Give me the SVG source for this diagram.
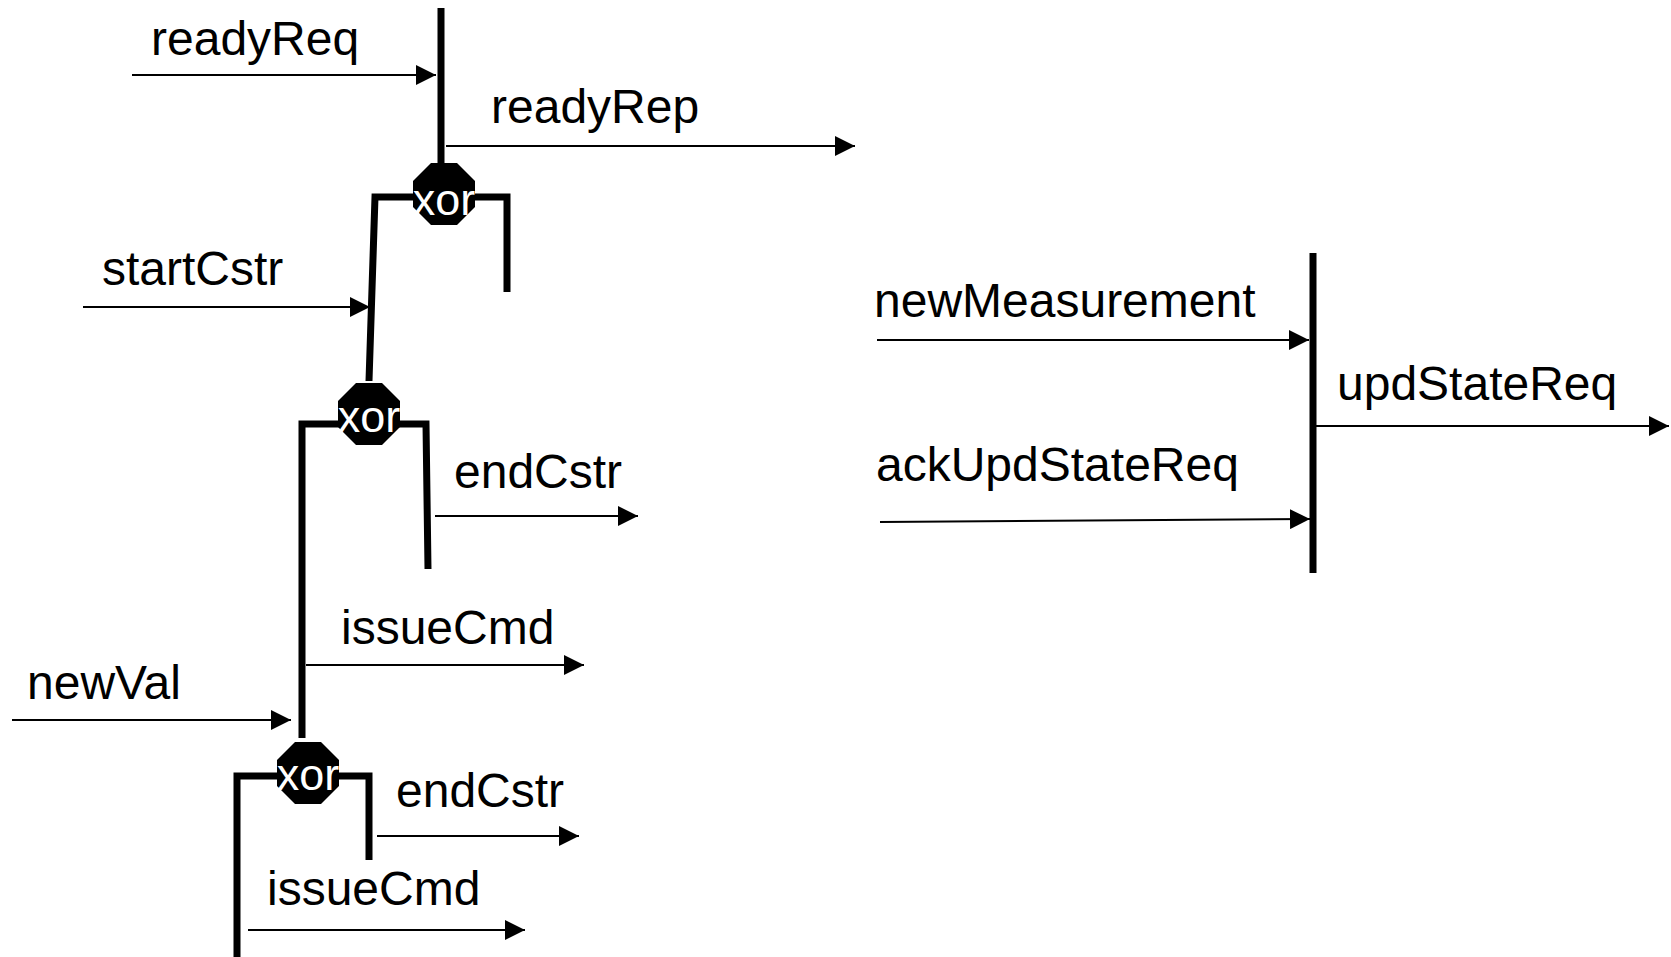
<svg xmlns="http://www.w3.org/2000/svg" width="1671" height="957" viewBox="0 0 1671 957">
<style>
.bg{fill:#fff}
.lbl{font-family:"Liberation Sans",Arial,sans-serif;font-size:48px;fill:#000}
.xor{font-family:"Liberation Sans",Arial,sans-serif;font-size:45px;fill:#fff;text-anchor:middle}
.thick{fill:none;stroke:#000;stroke-width:7;stroke-linejoin:miter;stroke-linecap:butt}
.arr{stroke:#000;stroke-width:2;fill:none;marker-end:url(#ah)}
.oct{fill:#000}
</style>
<defs>
<marker id="ah" markerUnits="userSpaceOnUse" markerWidth="20" markerHeight="20" refX="20" refY="10" orient="auto">
<path d="M0,0 L20,10 L0,20 Z" fill="#000"/>
</marker>
<polygon id="octa" points="-13,-31 13,-31 31,-13 31,13 13,31 -13,31 -31,13 -31,-13"/>
</defs>
<rect class="bg" x="0" y="0" width="1671" height="957"/>

<g id="bars">
<path class="thick" d="M441,8 L441,166"/>
<path class="thick" d="M507,292 L507,197 L375,197 L369,381"/>
<path class="thick" d="M428,569 L426,424 L302,424 L302,738"/>
<path class="thick" d="M369,860 L369,776 L237,776 L237,957"/>
<path class="thick" d="M1313,253 L1313,573"/>
</g>

<g id="xor1">
<use href="#octa" class="oct" x="444" y="194"/>
<text class="xor" x="444" y="215">xor</text>
</g>
<g id="xor2">
<use href="#octa" class="oct" x="369" y="414"/>
<text class="xor" x="369" y="432">xor</text>
</g>
<g id="xor3">
<use href="#octa" class="oct" x="308" y="773"/>
<text class="xor" x="308" y="790">xor</text>
</g>

<g id="connectors">
<line class="arr" x1="132" y1="75" x2="436" y2="75"/>
<line class="arr" x1="446" y1="146" x2="855" y2="146"/>
<line class="arr" x1="83" y1="307" x2="370" y2="307"/>
<line class="arr" x1="435" y1="516" x2="638" y2="516"/>
<line class="arr" x1="306" y1="665" x2="584" y2="665"/>
<line class="arr" x1="12" y1="720" x2="291" y2="720"/>
<line class="arr" x1="377" y1="836" x2="579" y2="836"/>
<line class="arr" x1="248" y1="930" x2="525" y2="930"/>
<line class="arr" x1="877" y1="340" x2="1309" y2="340"/>
<line class="arr" x1="1310" y1="426" x2="1669" y2="426"/>
<line class="arr" x1="880" y1="522" x2="1310" y2="519"/>
</g>

<g id="labels">
<text class="lbl" x="151" y="55">readyReq</text>
<text class="lbl" x="491" y="123">readyRep</text>
<text class="lbl" x="102" y="285">startCstr</text>
<text class="lbl" x="454" y="488">endCstr</text>
<text class="lbl" x="341" y="644">issueCmd</text>
<text class="lbl" x="27" y="699">newVal</text>
<text class="lbl" x="396" y="807">endCstr</text>
<text class="lbl" x="267" y="905">issueCmd</text>
<text class="lbl" x="874" y="317">newMeasurement</text>
<text class="lbl" x="1337" y="400">updStateReq</text>
<text class="lbl" x="876" y="481">ackUpdStateReq</text>
</g>
</svg>
